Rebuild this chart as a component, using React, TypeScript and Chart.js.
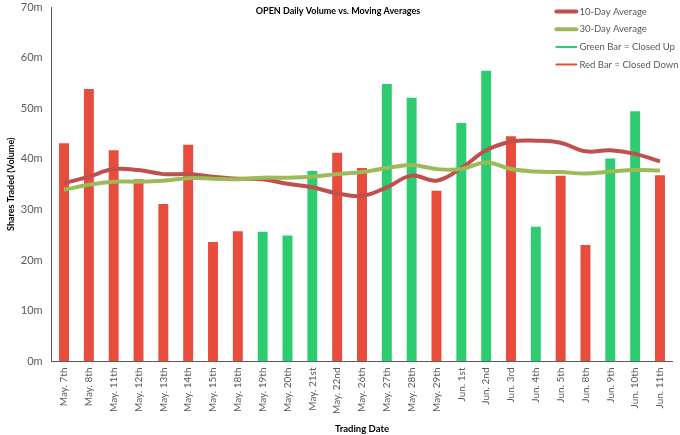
import { useEffect, useRef } from "react";
import { Chart, registerables } from "chart.js";

Chart.register(...registerables);

const dates = [
  "May. 7th", "May. 8th", "May. 11th", "May. 12th", "May. 13th", "May. 14th",
  "May. 15th", "May. 18th", "May. 19th", "May. 20th", "May. 21st", "May. 22nd",
  "May. 26th", "May. 27th", "May. 28th", "May. 29th", "Jun. 1st", "Jun. 2nd",
  "Jun. 3rd", "Jun. 4th", "Jun. 5th", "Jun. 8th", "Jun. 9th", "Jun. 10th",
  "Jun. 11th",
];

// daily volume, millions
const volume = [
  43.1, 53.8, 41.7, 36.0, 31.1, 42.8, 23.6, 25.7, 25.6, 24.9, 37.6, 41.2,
  38.2, 54.8, 52.1, 33.7, 47.1, 57.4, 44.5, 26.6, 36.7, 23.0, 40.1, 49.4,
  36.8,
];

// true = closed up (green), false = closed down (red)
const closedUp = [
  false, false, false, false, false, false, false, false, true, true, true, false,
  false, true, true, false, true, true, false, true, false, false, true, true,
  false,
];

const avg10 = [
  35.2, 36.5, 38.0, 37.8, 37.0, 37.0, 36.5, 36.1, 36.0, 35.1, 34.4, 33.2,
  32.7, 34.4, 36.7, 35.7, 38.2, 41.7, 43.4, 43.6, 43.2, 41.5, 41.7, 41.0,
  39.5,
];

const avg30 = [
  33.9, 34.9, 35.5, 35.5, 35.7, 36.2, 36.1, 36.0, 36.3, 36.3, 36.5, 37.0,
  37.4, 38.2, 38.8, 38.0, 38.0, 39.3, 38.0, 37.5, 37.4, 37.1, 37.5, 37.8,
  37.7,
];

const yTicks = [0, 10, 20, 30, 40, 50, 60, 70];

const RED = "#e74c3c";
const GREEN = "#2ecc71";
const AVG10_COLOR = "#c0504d";
const AVG30_COLOR = "#9bbb59";
const FONT = "Lato, 'Liberation Sans', sans-serif";
const TEXT = "#595959";

const overlayPlugin = {
  id: "overlay",
  afterDraw(chart: any) {
    const ctx = chart.ctx;
    ctx.save();
    // title
    ctx.font = `bold 9px ${FONT}`;
    ctx.fillStyle = "#000";
    ctx.textAlign = "center";
    ctx.textBaseline = "middle";
    ctx.fillText("OPEN Daily Volume vs. Moving Averages", chart.width / 2 - 2, 11);

    // legend
    const items = [
      { label: "10-Day Average", color: AVG10_COLOR, width: 4 },
      { label: "30-Day Average", color: AVG30_COLOR, width: 4 },
      { label: "Green Bar = Closed Up", color: GREEN, width: 2 },
      { label: "Red Bar = Closed Down", color: RED, width: 2 },
    ];
    const x0 = chart.chartArea.right - 116;
    items.forEach((it, i) => {
      const y = 11.5 + i * 17.7;
      ctx.strokeStyle = it.color;
      ctx.lineWidth = it.width;
      ctx.lineCap = "round";
      ctx.beginPath();
      ctx.moveTo(x0, y);
      ctx.lineTo(x0 + 20, y);
      ctx.stroke();
      ctx.font = `9.5px ${FONT}`;
      ctx.fillStyle = TEXT;
      ctx.textAlign = "left";
      ctx.fillText(it.label, x0 + 23, y);
    });
    ctx.restore();
  },
};

export default function App() {
  const ref = useRef<HTMLCanvasElement>(null);

  useEffect(() => {
    document.body.style.margin = "0";
    if (!ref.current) return;
    const chart = new Chart(ref.current, {
      type: "bar",
      data: {
        labels: dates,
        datasets: [
          {
            type: "line",
            label: "30-Day Average",
            data: avg30,
            borderColor: AVG30_COLOR,
            borderWidth: 4,
            pointRadius: 0,
            tension: 0.4,
            order: 0,
          },
          {
            type: "line",
            label: "10-Day Average",
            data: avg10,
            borderColor: AVG10_COLOR,
            borderWidth: 4,
            pointRadius: 0,
            tension: 0.4,
            order: 1,
          },
          {
            type: "bar",
            label: "Volume",
            data: volume,
            backgroundColor: closedUp.map((u) => (u ? GREEN : RED)),
            categoryPercentage: 0.8,
            barPercentage: 0.5,
            order: 2,
          },
        ],
      },
      options: {
        responsive: true,
        maintainAspectRatio: false,
        animation: false,
        layout: { padding: { top: 7, right: 7.6, left: 0, bottom: 0 } },
        plugins: {
          legend: { display: false },
          tooltip: { enabled: false },
        },
        scales: {
          x: {
            grid: { display: false, drawTicks: false },
            border: { display: true, color: "#595959", width: 1 },
            ticks: {
              autoSkip: false,
              minRotation: 90,
              maxRotation: 90,
              padding: 6,
              color: TEXT,
              font: { family: FONT, size: 10 },
            },
            title: {
              display: true,
              text: "Trading Date",
              color: "#000",
              font: { family: FONT, size: 9.5, weight: "bold" },
              padding: { top: 4, bottom: 0 },
            },
            afterFit: (s: any) => {
              s.height = 73.5;
            },
          },
          y: {
            min: yTicks[0],
            max: yTicks[yTicks.length - 1],
            grid: { display: false, drawTicks: false },
            border: { display: true, color: "#595959", width: 1 },
            ticks: {
              stepSize: 10,
              padding: 9,
              color: TEXT,
              font: { family: FONT, size: 11 },
              callback: (v: any) => `${v}m`,
            },
            title: {
              display: true,
              text: "Shares Traded (Volume)",
              color: "#000",
              font: { family: FONT, size: 9, weight: "bold" },
              padding: { top: 5.5, bottom: 0 },
            },
            afterFit: (s: any) => {
              s.width = 51.6;
              s.paddingTop = 0;
              s.paddingBottom = 0;
            },
          },
        },
      },
      plugins: [overlayPlugin],
    });
    return () => {
      chart.destroy();
    };
  }, []);

  return (
    <div style={{ position: "relative", width: 680, height: 435 }}>
      <canvas ref={ref}></canvas>
    </div>
  );
}
